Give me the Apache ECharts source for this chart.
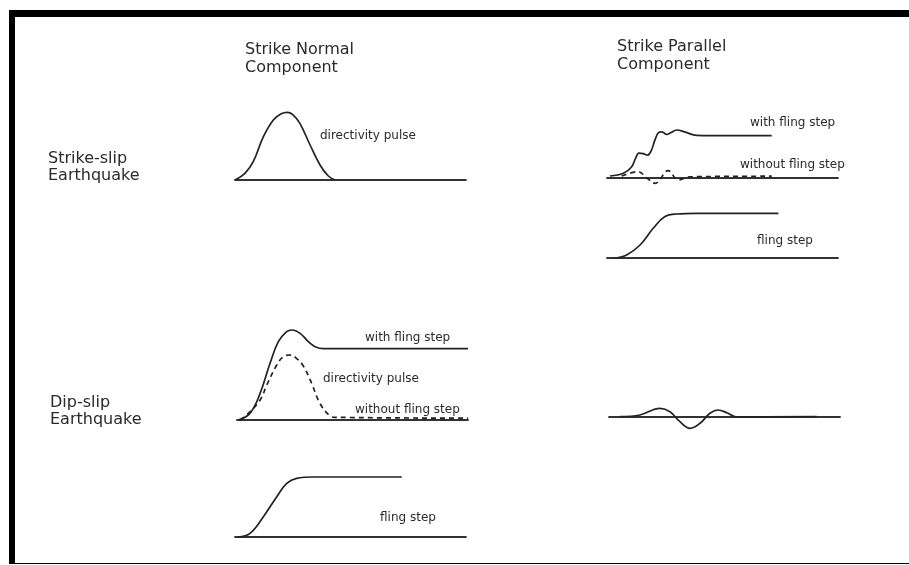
<!DOCTYPE html>
<html><head><meta charset="utf-8">
<script src="https://cdn.jsdelivr.net/npm/echarts@6/dist/echarts.min.js"></script>
<style>html,body{margin:0;padding:0;background:#fff}#c{width:909px;height:565px}</style>
</head><body><div id="c"></div>
<script>
// ---- data (time units 0..100 along each baseline, amplitude relative to baseline) ----
const snStrikeSlipPulse = [[0,0],[4.3,0.096],[7.9,0.261],[12.3,0.619],[16.6,0.857],[20.0,0.945],[22.6,0.965],[25.0,0.935],[28.1,0.81],[32.5,0.5],[36.8,0.214],[40.4,0.057],[43.3,0.0]];
const spStrikeSlipWithFling = [[1.3,0.033],[7.1,0.078],[10.7,0.189],[12.4,0.33],[13.8,0.415],[15.7,0.405],[17.6,0.38],[19.2,0.46],[20.8,0.64],[22.4,0.76],[23.8,0.77],[25.8,0.725],[27.6,0.755],[30.2,0.8],[33.8,0.765],[38.8,0.71],[45,0.705],[71.3,0.705]];
const spStrikeSlipWithoutFling = [[6.4,0.033],[13.5,0.105],[17.3,0.0],[20.8,-0.088],[26.5,0.122],[30.9,-0.033],[35.9,0.02],[71.3,0.03]];
const spFlingStep = [[3.5,0],[8.5,0.05],[14.3,0.217],[20.0,0.495],[25.1,0.69],[30.2,0.733],[38.8,0.745],[74.2,0.745]];
const snDipSlipWithFling = [[0.6,0],[5.6,0.074],[10.0,0.296],[14.3,0.63],[17.9,0.87],[21.5,0.981],[23.7,1.0],[27.3,0.963],[30.9,0.87],[33.8,0.815],[37.4,0.792],[100,0.792]];
const snDipSlipWithoutFling = [[1.3,0],[4.9,0.074],[10.0,0.222],[12.9,0.389],[17.2,0.611],[19.9,0.7],[22.9,0.722],[26.0,0.68],[28.7,0.6],[32.3,0.41],[35.9,0.185],[40.3,0.044],[42.4,0.03],[100,0.02]];
const snFlingStep = [[1.4,0],[6.5,0.061],[12.3,0.339],[18.1,0.672],[22.4,0.894],[26.7,0.978],[33.9,1.0],[72.2,1.0]];
const spDipSlip = [[4.8,0.015],[13.4,0.1],[22.1,0.435],[26.4,0.265],[30.7,-0.235],[35.1,-0.565],[39.4,-0.315],[43.7,0.185],[47.3,0.35],[51.0,0.215],[55.3,0.0],[89.9,0.015]];

const columnTitles = ['Strike Normal\nComponent', 'Strike Parallel\nComponent'];
const rowTitles = ['Strike-slip\nEarthquake', 'Dip-slip\nEarthquake'];
const curveLabels = ['directivity pulse','with fling step','without fling step','fling step','with fling step','directivity pulse','without fling step','fling step'];

// ---- layout ----
const grids = [
  {left:235, width:231, top:110, height:70,  ymin:0,    ymax:1},   // A
  {left:607, width:231, top:118, height:72,  ymin:-0.2, ymax:1},   // B
  {left:607, width:231, top:198, height:60,  ymin:0,    ymax:1},   // C
  {left:237, width:231, top:330, height:90,  ymin:0,    ymax:1},   // D
  {left:235, width:231, top:477, height:60,  ymin:0,    ymax:1},   // E
  {left:609, width:231, top:397, height:40,  ymin:-1,   ymax:1}    // F
];
const ink = '#222';
const xAxis = grids.map((g,i)=>({type:'value', gridIndex:i, min:0, max:100,
  axisLine:{show:true, onZero:true, lineStyle:{color:'#333', width:1.8}},
  axisTick:{show:false}, axisLabel:{show:false}, splitLine:{show:false}}));
const yAxis = grids.map((g,i)=>({type:'value', gridIndex:i, min:g.ymin, max:g.ymax, show:false, splitLine:{show:false}}));

function line(data, idx, dashed){
  return {type:'line', xAxisIndex:idx, yAxisIndex:idx, data, showSymbol:false, symbol:'none',
    smooth:0.4, clip:false, silent:true,
    lineStyle:{color:ink, width:1.7, type: dashed ? [5,4] : 'solid'}};
}
const series = [
  line(snStrikeSlipPulse,0,false),
  line(spStrikeSlipWithFling,1,false),
  line(spStrikeSlipWithoutFling,1,true),
  line(spFlingStep,2,false),
  line(snDipSlipWithFling,3,false),
  line(snDipSlipWithoutFling,3,true),
  line(snFlingStep,4,false),
  line(spDipSlip,5,false)
];

const bigFont = '16px "DejaVu Sans"';
const smallFont = '12px "DejaVu Sans"';
function txt(x,y,text,font,lh){
  return {type:'text', left:x, top:y, silent:true,
    style:{text, font, fill:'#2a2a2a', lineHeight:lh||undefined}};
}
const labelPos = [[320,130],[750,117],[740,159],[757,235],[365,332],[323,373],[355,404],[380,512]];
const graphic = [
  {type:'rect', shape:{x:9,y:10,width:900,height:7}, style:{fill:'#000'}},
  {type:'rect', shape:{x:9,y:10,width:6,height:554}, style:{fill:'#000'}},
  {type:'rect', shape:{x:9,y:563,width:900,height:1}, style:{fill:'#000'}},
  txt(245,41,columnTitles[0],bigFont,18),
  txt(617,38,columnTitles[1],bigFont,18),
  txt(48,150,rowTitles[0],bigFont,17),
  txt(50,394,rowTitles[1],bigFont,17)
].concat(curveLabels.map((t,i)=>txt(labelPos[i][0],labelPos[i][1],t,smallFont)));

const chart = echarts.init(document.getElementById('c'), null, {renderer:'canvas'});
chart.setOption({
  animation:false,
  backgroundColor:'#fff',
  grid: grids.map(g=>({left:g.left, top:g.top, width:g.width, height:g.height, containLabel:false})),
  xAxis, yAxis, series, graphic
});
</script></body></html>
